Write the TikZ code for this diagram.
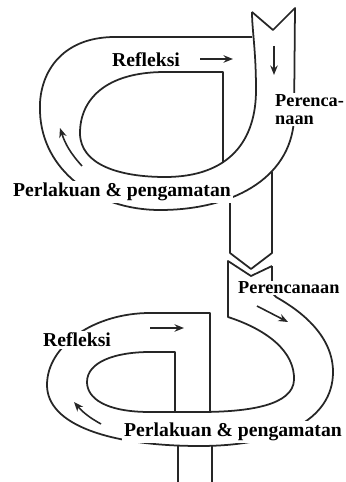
\documentclass[tikz,border=0pt]{standalone}
\usepackage{fontspec}
\setmainfont{Liberation Serif}
\usetikzlibrary{arrows.meta}
\tikzset{
  band/.style = {line width=1pt, black!85, line join=round},
  dir/.style  = {-{Stealth[length=1.9mm,width=1.5mm]}, line width=0.9pt, black!85},
  lbl/.style  = {fill=white, inner sep=1pt, align=left,
                 font=\fontsize{11.2}{11}\selectfont\bfseries},
  side/.style = {lbl, inner sep=0.5pt, font=\fontsize{10.4}{10.5}\selectfont\bfseries},
}
\begin{document}
\begin{tikzpicture}[x=0.02cm, y=-0.02cm]
        \useasboundingbox (0,0) rectangle (345,482);

        % upper cycle : outer edge, notched entry, inner edge
        \draw[band] (252,37) -- (115,37)
          .. controls (60,37) and (38,75) .. (40,112)
          .. controls (42,170) and (95,210) .. (160,210)
          .. controls (230,210) and (290,180) .. (294,120) -- (295,8)
          -- (273,30) -- (252,12);
        \draw[band] (223,162) -- (223,72) -- (165,72)
          .. controls (105,72) and (80,100) .. (80,133)
          .. controls (80,165) and (120,177) .. (165,177)
          .. controls (230,177) and (256,140) .. (256,90)
          .. controls (256,50) and (252,30) .. (252,12);

        % strip down to the next cycle
        \draw[band] (230,199) -- (230,253) -- (251,269) -- (272,253) -- (272,172);

        % lower cycle
        \draw[band] (272,266) -- (251,276) -- (228,261) -- (228,317)
          .. controls (268,330) and (295,352) .. (294,380)
          .. controls (293,405) and (250,412) .. (200,412) -- (150,412)
          .. controls (105,412) and (87,398) .. (87,382)
          .. controls (87,362) and (115,352) .. (150,352) -- (175,352) -- (175,412);
        \draw[band] (210,412) -- (210,313) -- (150,313)
          .. controls (95,313) and (47,345) .. (47,385)
          .. controls (47,425) and (110,446) .. (200,446)
          .. controls (280,446) and (333,420) .. (333,372)
          .. controls (333,330) and (290,305) .. (276,297)
          .. controls (272,294) and (272,290) .. (272,285) -- (272,266);
        \draw[band] (178,446) -- (178,482);
        \draw[band] (212,446) -- (212,482);

        % labels
        \node[lbl] (refA) at (146,60) {Refleksi};
        \node[side, anchor=north west] (planA) at (274,93) {Perenca-\\naan};
        \node[lbl] (actA) at (122,192) {Perlakuan \& pengamatan};
        \node[side, anchor=west] (planB) at (237,288) {Perencanaan};
        \node[lbl] (refB) at (77,340) {Refleksi};
        \node[lbl] (actB) at (233,432) {Perlakuan \& pengamatan};

        % direction marks
        \draw[dir] (200,59) -- (233,59);
        \draw[dir] (274,46) -- (274,75);
        \draw[dir] (82,166) to[bend left=12] (60,128);
        \draw[dir] (257,306) -- (288,322);
        \draw[dir] (150,328) -- (184,328);
        \draw[dir] (101,424) to[bend left=10] (74,402);
\end{tikzpicture}
\end{document}
